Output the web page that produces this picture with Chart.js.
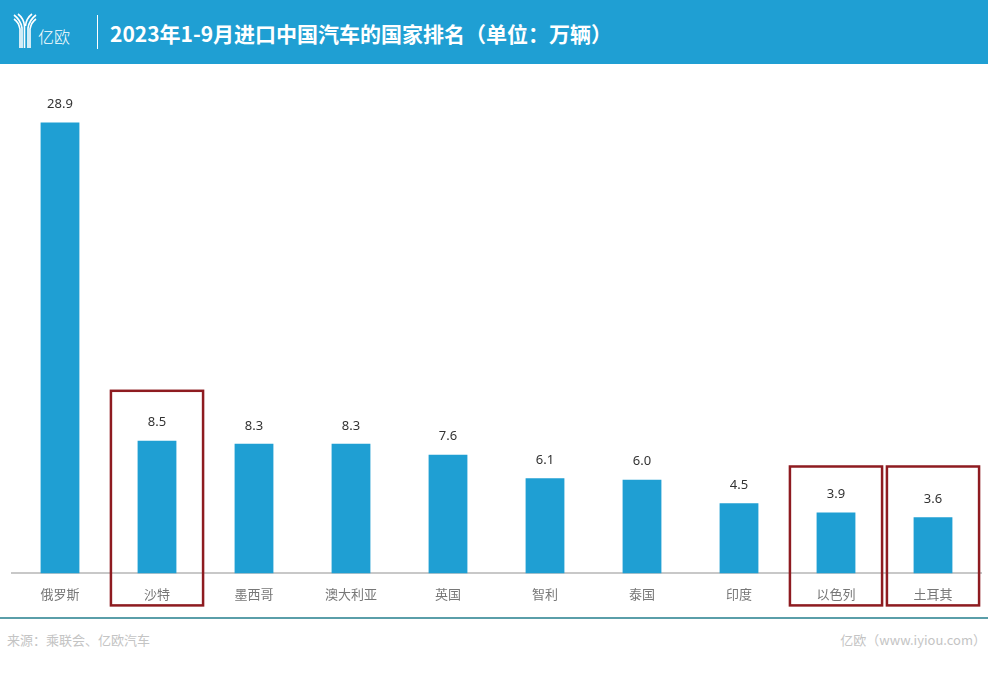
<!DOCTYPE html>
<html>
<head>
<meta charset="utf-8">
<script src="https://cdn.jsdelivr.net/npm/chart.js@4.4.0/dist/chart.umd.min.js"></script>
<style>
  html, body { margin: 0; padding: 0; background: #fff; width: 988px; height: 678px; overflow: hidden; font-family: "Noto Sans CJK SC", "Noto Sans", sans-serif; }
  #header { position: absolute; left: 0; top: 0; width: 988px; height: 64px; background: #1f9fd3; }
  #logo { position: absolute; left: 12px; top: 12px; }
  #brand { position: absolute; left: 38px; top: 25px; color: #fff; font-size: 16px; line-height: 22px; font-weight: 300; }
  #sep { position: absolute; left: 97px; top: 15px; width: 1px; height: 34px; background: #fff; }
  #title { position: absolute; left: 110px; top: 17px; color: #fff; font-size: 21px; line-height: 32px; font-weight: bold; letter-spacing: 0px; }
  #wrap { position: absolute; left: 0; top: 64px; width: 988px; height: 551px; }
  #footline { position: absolute; left: 0; top: 617px; width: 988px; height: 2px; background: #5a9ea9; }
  #src { position: absolute; left: 7px; top: 630px; font-size: 13px; color: #c4c4c4; line-height: 20px; }
  #site { position: absolute; right: 2px; top: 630px; font-size: 13px; color: #c4c4c4; line-height: 20px; }
</style>
</head>
<body>
<div id="header">
  <svg id="logo" width="26" height="38" viewBox="0 0 26 38">
    <g fill="none" stroke="#fff" stroke-width="1.6">
      <path d="M2 3 C6 6 9 10 10 16 L10 36"/>
      <path d="M2 7 C5 9 7 12 8 17 L8 36"/>
      <path d="M24 3 C20 6 17 10 16 16 L16 36"/>
      <path d="M24 7 C21 9 19 12 18 17 L18 36"/>
      <path d="M6 2 C10 5 12 9 12.5 14 L12.5 36"/>
      <path d="M20 2 C16 5 14 9 13.5 14"/>
    </g>
  </svg>
  <div id="brand">亿欧</div>
  <div id="sep"></div>
  <div id="title">2023年1-9月进口中国汽车的国家排名（单位：万辆）</div>
</div>
<div id="wrap"><canvas id="c" width="988" height="551"></canvas></div>
<div id="footline"></div>
<div id="src">来源：乘联会、亿欧汽车</div>
<div id="site">亿欧（www.iyiou.com）</div>
<script>
const categories = ["俄罗斯", "沙特", "墨西哥", "澳大利亚", "英国", "智利", "泰国", "印度", "以色列", "土耳其"];
const values = [28.9, 8.5, 8.3, 8.3, 7.6, 6.1, 6.0, 4.5, 3.9, 3.6];
const highlightIdx = [1, 8, 9];
const highlightTop = [11.7, 6.85, 6.85];

const valueLabels = {
  id: 'valueLabels',
  afterDatasetsDraw(chart) {
    const ctx = chart.ctx;
    const meta = chart.getDatasetMeta(0);
    ctx.save();
    ctx.font = '13px "Noto Sans", "DejaVu Sans", sans-serif';
    ctx.fillStyle = '#333';
    ctx.textAlign = 'center';
    ctx.textBaseline = 'middle';
    meta.data.forEach((bar, i) => {
      ctx.fillText(values[i].toFixed(1), bar.x, bar.y - 18);
    });
    ctx.restore();
  }
};

const boxes = {
  id: 'boxes',
  afterDraw(chart) {
    const ctx = chart.ctx;
    const xs = chart.scales.x, ys = chart.scales.y;
    const cw = (xs.right - xs.left) / categories.length;
    ctx.save();
    ctx.strokeStyle = '#8e1b20';
    ctx.lineWidth = 2.5;
    highlightIdx.forEach((idx, k) => {
      const cx = xs.getPixelForValue(idx);
      const half = cw * 0.475;
      const top = ys.getPixelForValue(highlightTop[k]);
      const bottom = chart.chartArea.bottom + 32;
      ctx.strokeRect(cx - half, top, half * 2, bottom - top);
    });
    ctx.restore();
  }
};

new Chart(document.getElementById('c'), {
  type: 'bar',
  data: {
    labels: categories,
    datasets: [{
      data: values,
      backgroundColor: '#1f9fd3',
      barPercentage: 0.8,
      categoryPercentage: 0.5
    }]
  },
  options: {
    responsive: false,
    animation: false,
    layout: { padding: { left: 11.5, right: 6.5, top: 10, bottom: 0 } },
    plugins: { legend: { display: false }, tooltip: { enabled: false } },
    scales: {
      x: {
        grid: { display: false, drawTicks: false },
        border: { display: true, color: '#c8c8c8', width: 2 },
        ticks: { color: '#777', padding: 13, font: { size: 13, family: '"Noto Sans CJK SC", sans-serif' } }
      },
      y: { display: false, min: 0, max: 32 }
    }
  },
  plugins: [valueLabels, boxes]
});
</script>
</body>
</html>
